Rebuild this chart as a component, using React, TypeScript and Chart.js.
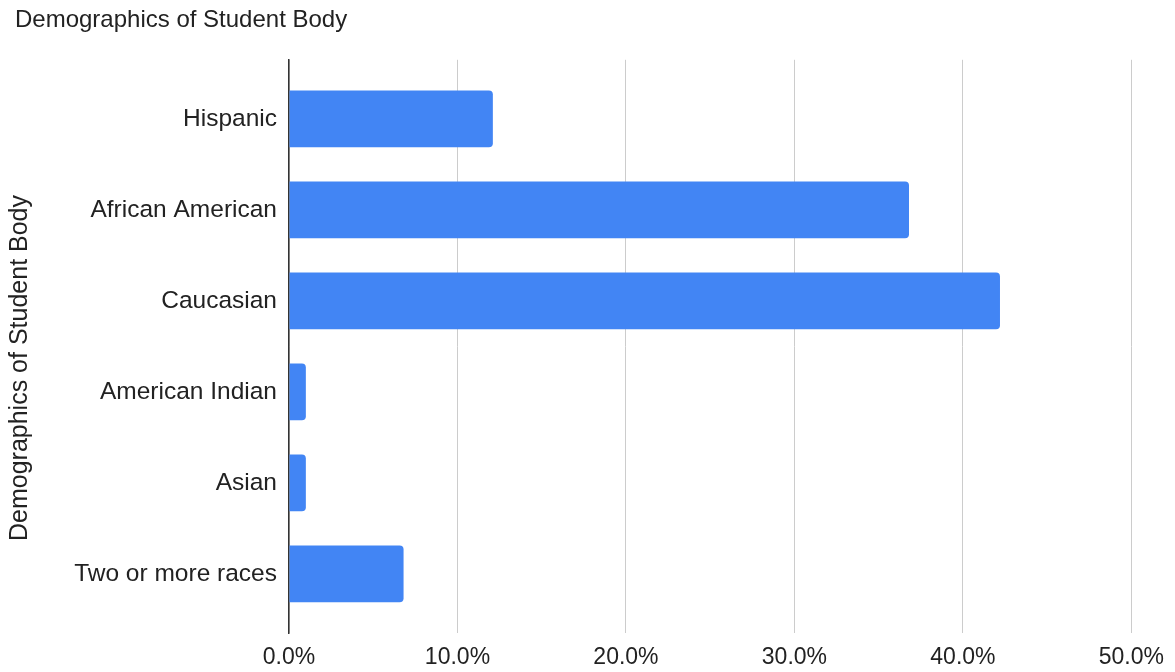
import React, { useEffect, useRef } from "react";
import { Chart, registerables } from "chart.js";

Chart.register(...registerables);

const chartTitle = "Demographics of Student Body";
const axisTitle = "Demographics of Student Body";
const categories = [
  "Hispanic",
  "African American",
  "Caucasian",
  "American Indian",
  "Asian",
  "Two or more races",
];
const percentValues = [12.1, 36.8, 42.2, 1.0, 1.0, 6.8];
const xTicks = [0, 10, 20, 30, 40, 50];

const FONT = "Arial, 'Liberation Sans', sans-serif";
const TEXT = "#222222";

const yTitlePlugin = {
  id: "yTitlePlugin",
  afterDraw(chart: any) {
    const ctx = chart.ctx;
    ctx.save();
    ctx.fillStyle = TEXT;
    ctx.font = `25px ${FONT}`;
    ctx.textAlign = "center";
    ctx.textBaseline = "middle";
    ctx.translate(20, 368);
    ctx.rotate(-Math.PI / 2);
    ctx.fillText(axisTitle, 0, 0);
    ctx.restore();
  },
};

export default function App() {
  const ref = useRef<HTMLCanvasElement | null>(null);

  useEffect(() => {
    if (!ref.current) return;
    const chart = new Chart(ref.current, {
      type: "bar",
      data: {
        datasets: [
          {
            label: chartTitle,
            data: percentValues.map((v, i) => ({ x: v, y: i })),
            backgroundColor: "#4285f4",
            borderRadius: 4,
            borderSkipped: "start",
            barPercentage: 0.78,
            categoryPercentage: 0.8,
          },
        ],
      },
      options: {
        indexAxis: "y",
        animation: false,
        responsive: true,
        maintainAspectRatio: false,
        layout: { padding: { left: 15, right: 43, top: 0, bottom: 0 } },
        plugins: {
          legend: { display: false },
          tooltip: { enabled: false },
          title: {
            display: true,
            text: chartTitle,
            align: "start",
            color: TEXT,
            font: { family: FONT, size: 24, weight: "normal" },
            padding: { top: 6, bottom: 25 },
          },
        },
        scales: {
          x: {
            type: "linear",
            min: 0,
            max: 50,
            afterBuildTicks: (scale: any) => {
              scale.ticks = xTicks.map((v) => ({ value: v }));
            },
            afterFit: (scale: any) => {
              scale.height = 39;
            },
            ticks: {
              color: TEXT,
              font: { family: FONT, size: 23 },
              padding: 11,
              callback: (v: any) => `${Number(v).toFixed(1)}%`,
            },
            grid: { color: "#cccccc", lineWidth: 1, drawTicks: false },
            border: { display: false },
          },
          y: {
            type: "linear",
            offset: false,
            min: -0.65,
            max: 5.65,
            reverse: true,
            afterBuildTicks: (scale: any) => {
              scale.ticks = categories.map((_, i) => ({ value: i }));
            },
            afterFit: (scale: any) => {
              scale.width = 289 - 15;
            },
            ticks: {
              color: TEXT,
              font: { family: FONT, size: 24.5 },
              padding: 12,
              callback: (v: any) => categories[v] ?? "",
            },
            grid: { display: false, drawTicks: false },
            border: { display: true, color: "#333333", width: 1.5 },
          },
        },
      },
      plugins: [yTitlePlugin],
    } as any);
    return () => chart.destroy();
  }, []);

  return (
    <div
      style={{
        position: "absolute",
        left: 0,
        top: 0,
        width: 1175,
        height: 672,
        background: "#ffffff",
      }}
    >
      <canvas ref={ref} />
    </div>
  );
}
